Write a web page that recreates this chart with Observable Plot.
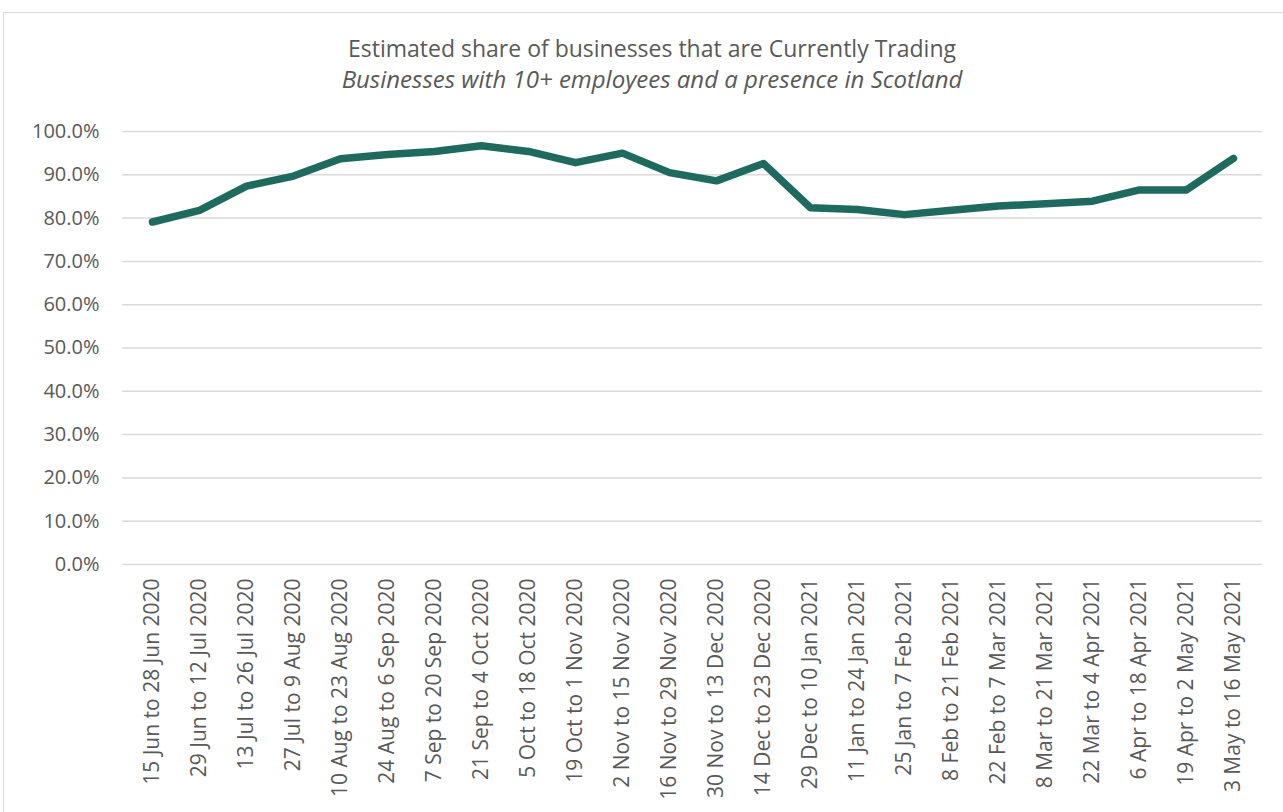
<!DOCTYPE html>
<html>
<head>
<meta charset="utf-8">
<script src="https://cdn.jsdelivr.net/npm/d3@7"></script>
<script src="https://cdn.jsdelivr.net/npm/@observablehq/plot@0.6"></script>
<style>
  body { margin: 0; background: #fff; font-family: "Open Sans", sans-serif; }
  #frame { position: absolute; left: 3px; top: 12px; width: 1290px; height: 820px; border: 1px solid #d9d9d9; box-sizing: border-box; }
  #title { position: absolute; left: 0; top: 34px; width: 1304px; text-align: center; font-size: 23px; color: #595959; line-height: 28px; white-space: nowrap; }
  #subtitle { position: absolute; left: 0; top: 65px; width: 1304px; text-align: center; font-size: 24px; font-style: italic; color: #595959; line-height: 28px; white-space: nowrap; }
  #chart { position: absolute; left: 0; top: 100px; }
</style>
</head>
<body>
<div id="frame"></div>
<div id="title">Estimated share of businesses that are Currently Trading</div>
<div id="subtitle">Businesses with 10+ employees and a presence in Scotland</div>
<div id="chart"></div>
<script>
const periods = [
  "15 Jun to 28 Jun 2020", "29 Jun to 12 Jul 2020", "13 Jul to 26 Jul 2020", "27 Jul to 9 Aug 2020",
  "10 Aug to 23 Aug 2020", "24 Aug to 6 Sep 2020", "7 Sep to 20 Sep 2020", "21 Sep to 4 Oct 2020",
  "5 Oct to 18 Oct 2020", "19 Oct to 1 Nov 2020", "2 Nov to 15 Nov 2020", "16 Nov to 29 Nov 2020",
  "30 Nov to 13 Dec 2020", "14 Dec to 23 Dec 2020", "29 Dec to 10 Jan 2021", "11 Jan to 24 Jan 2021",
  "25 Jan to 7 Feb 2021", "8 Feb to 21 Feb 2021", "22 Feb to 7 Mar 2021", "8 Mar to 21 Mar 2021",
  "22 Mar to 4 Apr 2021", "6 Apr to 18 Apr 2021", "19 Apr to 2 May 2021", "3 May to 16 May 2021"
];
const tradingShare = [
  79.1, 81.8, 87.4, 89.7, 93.7, 94.7, 95.4, 96.7, 95.4, 92.8, 95.0, 90.5,
  88.6, 92.6, 82.4, 82.0, 80.8, 81.8, 82.8, 83.3, 83.9, 86.5, 86.5, 93.8
];
const yTicks = [0, 10, 20, 30, 40, 50, 60, 70, 80, 90, 100];

const data = periods.map((p, i) => ({period: p, value: tradingShare[i]}));

const chart = Plot.plot({
  width: 1283,
  height: 712,
  marginLeft: 122,
  marginRight: 21,
  marginTop: 31,
  marginBottom: 248,
  style: { fontFamily: "Open Sans, sans-serif", color: "#595959", background: "transparent" },
  x: { type: "point", domain: periods, padding: 0.5, label: null },
  y: { domain: [0, 100], label: null },
  marks: [
    Plot.ruleY(yTicks, { stroke: "#d9d9d9", strokeWidth: 1.5 }),
    Plot.axisY(yTicks, { tickSize: 0, tickPadding: 23, fontSize: 20, fill: "#595959", tickFormat: d => d.toFixed(1) + "%", label: null }),
    Plot.axisX({ tickRotate: -90, tickSize: 0, tickPadding: 14, fontSize: 21, fill: "#595959", label: null }),
    Plot.line(data, { x: "period", y: "value", stroke: "#1e6a5f", strokeWidth: 7.5, strokeLinecap: "round", strokeLinejoin: "round" })
  ]
});
document.getElementById("chart").appendChild(chart);
</script>
</body>
</html>
